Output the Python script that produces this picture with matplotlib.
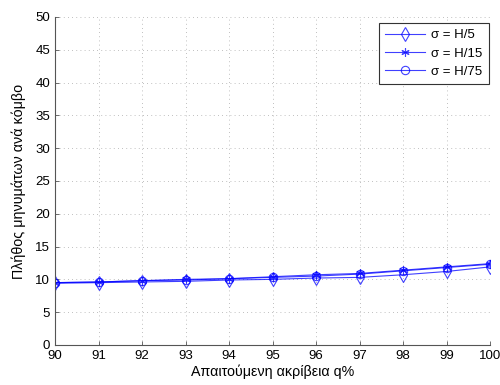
import matplotlib
matplotlib.use('Agg')
import matplotlib.pyplot as plt
import numpy as np

plt.rcParams['font.family'] = ['Liberation Sans', 'DejaVu Sans']

# Απαιτούμενη ακρίβεια q%
q = [90, 91, 92, 93, 94, 95, 96, 97, 98, 99, 100]
sigma_h5 = [9.4, 9.5, 9.6, 9.7, 9.9, 10.0, 10.2, 10.3, 10.7, 11.2, 11.9]
sigma_h15 = [9.5, 9.6, 9.8, 10.0, 10.1, 10.4, 10.7, 10.9, 11.4, 11.9, 12.4]
sigma_h75 = [9.5, 9.6, 9.8, 9.9, 10.1, 10.3, 10.5, 10.8, 11.3, 11.8, 12.3]

fig = plt.figure(figsize=(5, 3.85), dpi=100)
ax = fig.add_axes([0.11, 0.104, 0.87, 0.852])

blue = '#0000ff'
ax.plot(q, sigma_h5, color=blue, marker='d', mfc='none', ms=7, mew=0.8, lw=0.8, alpha=0.75, label='σ = H/5')
ax.plot(q, sigma_h15, color=blue, marker=(6, 2, 0), ms=6, mew=0.8, lw=0.8, alpha=0.75, label='σ = H/15')
ax.plot(q, sigma_h75, color=blue, marker='o', mfc='none', ms=6, mew=0.8, lw=0.8, alpha=0.75, label='σ = H/75')

ax.set_xlim(90, 100)
ax.set_ylim(0, 50)
ax.set_xticks(q)
ax.set_yticks(np.arange(0, 51, 5))
ax.tick_params(direction='in', labelsize=9.5, length=3, width=0.5, colors='#333333', labelcolor='black')
ax.grid(True, linestyle=(0, (1, 4)), color='#aaaaaa', linewidth=0.6)
ax.spines['top'].set_visible(False)
ax.spines['right'].set_visible(False)
for s in ['left', 'bottom']:
    ax.spines[s].set_linewidth(0.8)
    ax.spines[s].set_color('#555555')

ax.set_xlabel('Απαιτούμενη ακρίβεια q%', fontsize=10.3, labelpad=2)
ax.set_ylabel('Πλήθος μηνυμάτων ανά κόμβο', fontsize=10.3, labelpad=7)

leg = ax.legend(loc='upper right', bbox_to_anchor=(1.0, 0.985), fontsize=9.5, fancybox=False,
                framealpha=1, edgecolor='#333333', borderaxespad=0.1, handlelength=3.0,
                labelspacing=0.45, borderpad=0.45, handletextpad=0.5)
leg.get_frame().set_linewidth(0.8)

fig.savefig('out.png', dpi=100)
